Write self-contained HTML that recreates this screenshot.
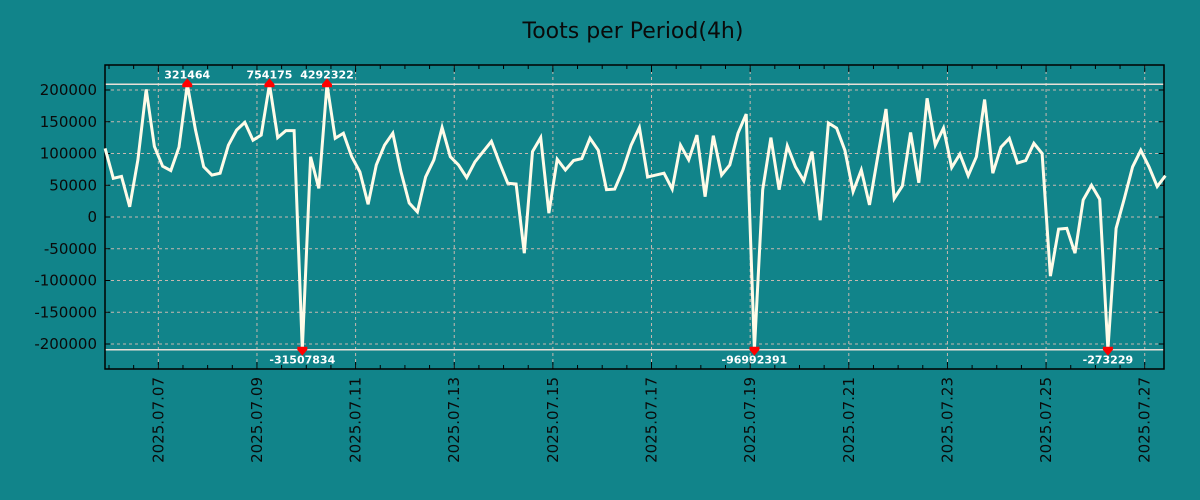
<!DOCTYPE html>
<html><head><meta charset="utf-8"><style>
html,body{margin:0;padding:0;background:#11848a;}
svg{display:block;font-family:"DejaVu Sans","Liberation Sans",sans-serif;}
</style></head><body>
<svg id="chart" width="1200" height="500" viewBox="0 0 1200 500">
<rect x="0" y="0" width="1200" height="500" fill="#11848a"/>
<text x="633" y="38" text-anchor="middle" font-size="22" fill="#0a0a0a">Toots per Period(4h)</text>
<g id="grid"></g>
<g id="axes"></g>
<g id="series"></g>
<g id="marks"></g>
</svg>
<script>
const values = [108000,61000,64000,16000,90000,201000,111000,80000,73000,110000,
321464,137000,79000,66000,69000,113000,137000,149000,121000,129000,
754175,125000,136000,136000,-31507834,95000,45000,4292322,124000,132000,
95000,71000,20000,82000,113000,132000,71000,22000,8000,63000,
90000,141000,95000,82000,62000,87000,103000,119000,85000,53000,
52000,-57000,103000,125000,6000,91000,74000,89000,92000,124000,
105000,43000,44000,74000,113000,141000,63000,66000,69000,44000,
113000,90000,129000,32000,128000,66000,82000,132000,162000,-96992391,
43000,125000,43000,112000,79000,57000,103000,-5000,148000,140000,
105000,40000,74000,19000,95000,170000,29000,49000,133000,54000,
187000,113000,140000,78000,99000,65000,95000,185000,69000,110000,
124000,85000,89000,116000,100000,-93000,-19000,-18000,-57000,27000,
50000,28000,-273229,-18000,29000,79000,105000,79000,48000,65000];
const yTicks = [200000,150000,100000,50000,0,-50000,-100000,-150000,-200000];
const xTickLabels = ["2025.07.07","2025.07.09","2025.07.11","2025.07.13","2025.07.15","2025.07.17","2025.07.19","2025.07.21","2025.07.23","2025.07.25","2025.07.27"];
const xTickDays = [1,3,5,7,9,11,13,15,17,19,21];
const clipHi = 209000, clipLo = -209000;

const NS="http://www.w3.org/2000/svg";
const L=105, R=1164, T=65, B=369;
const pxPerDay=49.32, day0X=109;
const startDay=-0.08;
function xDay(d){return day0X+pxPerDay*d;}
function xIdx(i){return xDay(startDay+i/6);}
function y(v){return 217-(v/200000)*127;}
function mk(tag,attrs,parent){const e=document.createElementNS(NS,tag);for(const k in attrs)e.setAttribute(k,attrs[k]);parent.appendChild(e);return e;}
const grid=document.getElementById('grid'),axes=document.getElementById('axes'),series=document.getElementById('series'),marks=document.getElementById('marks');

yTicks.forEach(v=>{
  const gl=mk('line',{x1:L,x2:R,y1:y(v),y2:y(v),stroke:'#c8b8b0','stroke-width':1,'stroke-dasharray':'3,3'},grid);
  
  
  const t=mk('text',{x:97,y:y(v)+5,'text-anchor':'end','font-size':15,fill:'#0a0a0a'},axes);
  t.textContent=v;
  
  
  mk('line',{x1:L,x2:L+5,y1:y(v),y2:y(v),stroke:'#000','stroke-width':1},axes);
  mk('line',{x1:R-5,x2:R,y1:y(v),y2:y(v),stroke:'#000','stroke-width':1},axes);
});
xTickDays.forEach((d,k)=>{
  const x=xDay(d);
  const gl=mk('line',{x1:x,x2:x,y1:T,y2:B,stroke:'#c8b8b0','stroke-width':1,'stroke-dasharray':'3,3'},grid);
  
  
  const t=mk('text',{x:0,y:0,'text-anchor':'end','font-size':15,fill:'#0a0a0a',transform:`translate(${x+5},377) rotate(-90)`},axes);
  t.textContent=xTickLabels[k];
  
  
});
for(let d=0; xDay(d)<R; d+=0.5){
  const x=xDay(d); if(x<L)continue;
  const len=(Math.abs(d%2-1)<1e-6)?7:4;
  mk('line',{x1:x,x2:x,y1:B,y2:B-len,stroke:'#000','stroke-width':1},axes);
  mk('line',{x1:x,x2:x,y1:T,y2:T+len,stroke:'#000','stroke-width':1},axes);
}
const frame=mk('rect',{x:L,y:T,width:R-L,height:B-T,fill:'none',stroke:'#000','stroke-width':1.5},axes);


[clipHi,clipLo].forEach(v=>{
  const cl=mk('line',{x1:L,x2:R,y1:y(v),y2:y(v),stroke:'#e8e0d8','stroke-width':1.5},grid);
  
  
});
const pts=values.map((v,i)=>[xIdx(i),y(Math.max(clipLo,Math.min(clipHi,v)))]);
const line=mk('polyline',{points:pts.map(p=>p[0].toFixed(1)+','+p[1].toFixed(1)).join(' '),fill:'none',stroke:'#fffbe8','stroke-width':3,'stroke-linejoin':'miter'},series);


values.forEach((v,i)=>{
  if(v<=clipHi && v>=clipLo)return;
  const x=xIdx(i);
  if(v>clipHi){
    const yy=y(clipHi);
    const m=mk('path',{d:`M${x-5},${yy} L${x+5},${yy} L${x},${yy-6} Z M${x-5},${yy} h10 v3 h-10 Z`,fill:'#ff0000'},marks);
    
    
    const t=mk('text',{x:x,y:yy-6,'text-anchor':'middle','font-size':11,'font-weight':'bold',fill:'#ffffff'},marks);
    t.textContent=v;
    
    
  } else {
    const yy=y(clipLo);
    const m=mk('path',{d:`M${x-5},${yy} L${x+5},${yy} L${x},${yy+6} Z M${x-5},${yy-3} h10 v3 h-10 Z`,fill:'#ff0000'},marks);
    
    
    const t=mk('text',{x:x,y:yy+14,'text-anchor':'middle','font-size':11,'font-weight':'bold',fill:'#ffffff'},marks);
    t.textContent=v;
    
    
  }
});
</script>
</body></html>
